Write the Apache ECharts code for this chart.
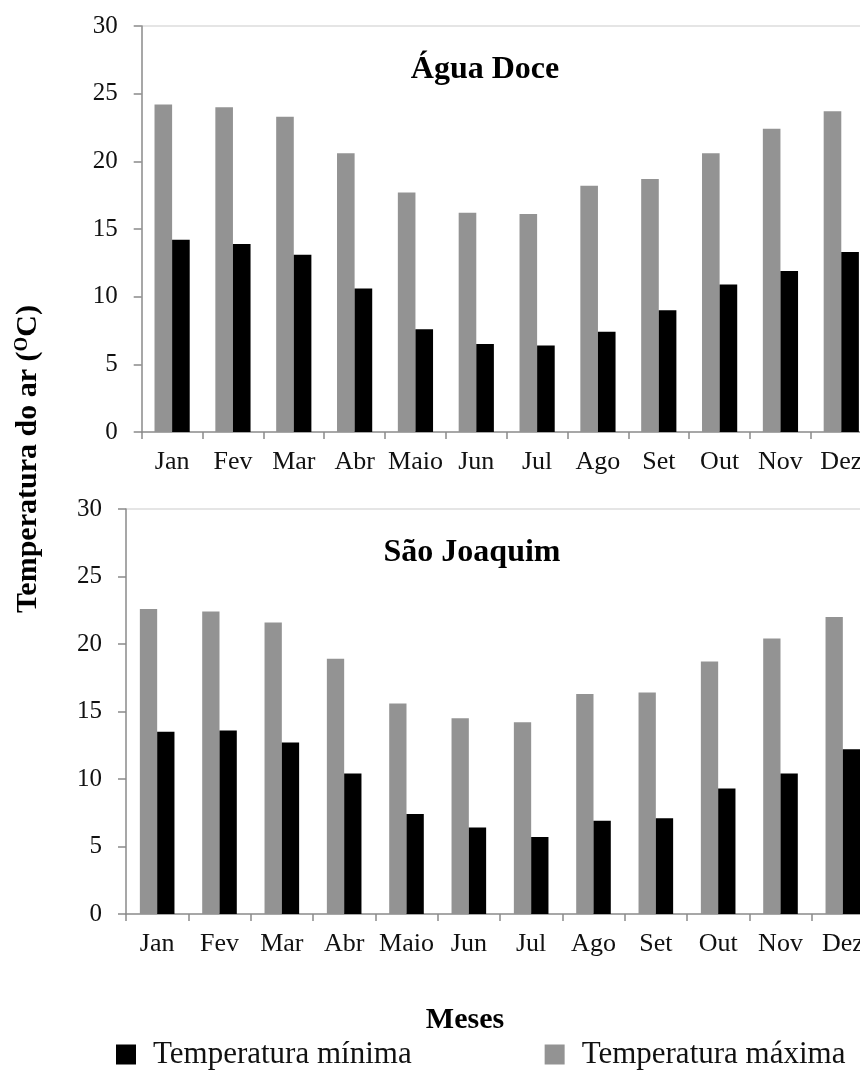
<!DOCTYPE html>
<html>
<head>
<meta charset="utf-8">
<script src="https://cdn.jsdelivr.net/npm/echarts@6/dist/echarts.min.js"></script>
<style>
	html, body { margin: 0; padding: 0; background: #fff; }
	#main { width: 860px; height: 1072px; }
</style>
</head>
<body>
<div id="main"></div>
<script>
// meses
var meses = ['Jan', 'Fev', 'Mar', 'Abr', 'Maio', 'Jun', 'Jul', 'Ago', 'Set', 'Out', 'Nov', 'Dez'];

// Água Doce
var aguaMax = [24.2, 24.0, 23.3, 20.6, 17.7, 16.2, 16.1, 18.2, 18.7, 20.6, 22.4, 23.7];
var aguaMin = [14.2, 13.9, 13.1, 10.6, 7.6, 6.5, 6.4, 7.4, 9.0, 10.9, 11.9, 13.3];

// São Joaquim
var saoMax = [22.6, 22.4, 21.6, 18.9, 15.6, 14.5, 14.2, 16.3, 16.4, 18.7, 20.4, 22.0];
var saoMin = [13.5, 13.6, 12.7, 10.4, 7.4, 6.4, 5.7, 6.9, 7.1, 9.3, 10.4, 12.2];

var yTicks = [0, 5, 10, 15, 20, 25, 30];

(function(){
	var serif = '"Liberation Serif", "DejaVu Serif", serif';
	var axisColor = '#8a8a8a';
	var myChart = echarts.init(document.getElementById('main'));

	function xAxisCfg(idx) {
		return {
			type: 'category',
			gridIndex: idx,
			data: meses,
			axisLine: { lineStyle: { color: axisColor, width: 1.5 } },
			axisTick: { show: true, length: 7, lineStyle: { color: axisColor, width: 1.5 } },
			axisLabel: { color: '#111', fontFamily: serif, fontSize: 26, margin: 17, interval: 0 }
		};
	}

	function yAxisCfg(idx) {
		return {
			type: 'value',
			gridIndex: idx,
			min: yTicks[0],
			max: yTicks[yTicks.length - 1],
			interval: 5,
			axisLine: { show: true, lineStyle: { color: axisColor, width: 1.5 } },
			axisTick: { show: true, length: 8, lineStyle: { color: axisColor, width: 1.5 } },
			axisLabel: { color: '#111', fontFamily: serif, fontSize: 25, margin: 24 },
			// só a linha do topo (30) aparece
			splitLine: {
				show: true,
				lineStyle: {
					color: ['rgba(0,0,0,0)', 'rgba(0,0,0,0)', 'rgba(0,0,0,0)', 'rgba(0,0,0,0)',
						'rgba(0,0,0,0)', 'rgba(0,0,0,0)', '#dcdcdc'],
					width: 1.5
				}
			}
		};
	}

	function barCfg(name, data, idx, color, w) {
		return {
			name: name,
			type: 'bar',
			xAxisIndex: idx,
			yAxisIndex: idx,
			data: data,
			barWidth: w,
			barGap: '0%',
			itemStyle: { color: color },
			emphasis: { disabled: true }
		};
	}

	var option = {
		animation: false,
		backgroundColor: '#fff',
		// o gráfico passa da borda direita, como no original
		grid: [
			{ left: 141.7, top: 26, width: 730, height: 406, outerBoundsMode: 'none' },
			{ left: 126, top: 509, width: 748, height: 405, outerBoundsMode: 'none' }
		],
		xAxis: [xAxisCfg(0), xAxisCfg(1)],
		yAxis: [yAxisCfg(0), yAxisCfg(1)],
		legend: {
			left: 111,
			top: 1034,
			itemWidth: 20,
			itemHeight: 20,
			itemGap: 133,
			icon: 'rect',
			textStyle: { fontFamily: serif, fontSize: 31, color: '#111', padding: [0, 0, 0, 12] },
			data: ['Temperatura mínima', 'Temperatura máxima']
		},
		graphic: [
			{
				type: 'text', x: 485, y: 70,
				style: { text: 'Água Doce', fontFamily: serif, fontSize: 32, fontWeight: 'bold',
					fill: '#000', textAlign: 'center', textVerticalAlign: 'middle' }
			},
			{
				type: 'text', x: 472, y: 553,
				style: { text: 'São Joaquim', fontFamily: serif, fontSize: 32, fontWeight: 'bold',
					fill: '#000', textAlign: 'center', textVerticalAlign: 'middle' }
			},
			{
				type: 'text', x: 465, y: 1020,
				style: { text: 'Meses', fontFamily: serif, fontSize: 30, fontWeight: 'bold',
					fill: '#000', textAlign: 'center', textVerticalAlign: 'middle' }
			},
			{
				type: 'text', x: 28, y: 459, rotation: Math.PI / 2,
				style: {
					text: 'Temperatura do ar ({s|O}C)',
					fontFamily: serif, fontSize: 30, fontWeight: 'bold', fill: '#000',
					textAlign: 'center', textVerticalAlign: 'middle',
					rich: {
						s: { fontFamily: serif, fontSize: 19, fontWeight: 'bold', verticalAlign: 'top' }
					}
				}
			}
		],
		series: [
			barCfg('Temperatura máxima', aguaMax, 0, '#939393', 17.6),
			barCfg('Temperatura mínima', aguaMin, 0, '#000000', 17.6),
			barCfg('Temperatura máxima', saoMax, 1, '#939393', 17.3),
			barCfg('Temperatura mínima', saoMin, 1, '#000000', 17.3)
		]
	};
	myChart.setOption(option);
})();
</script>
</body>
</html>
